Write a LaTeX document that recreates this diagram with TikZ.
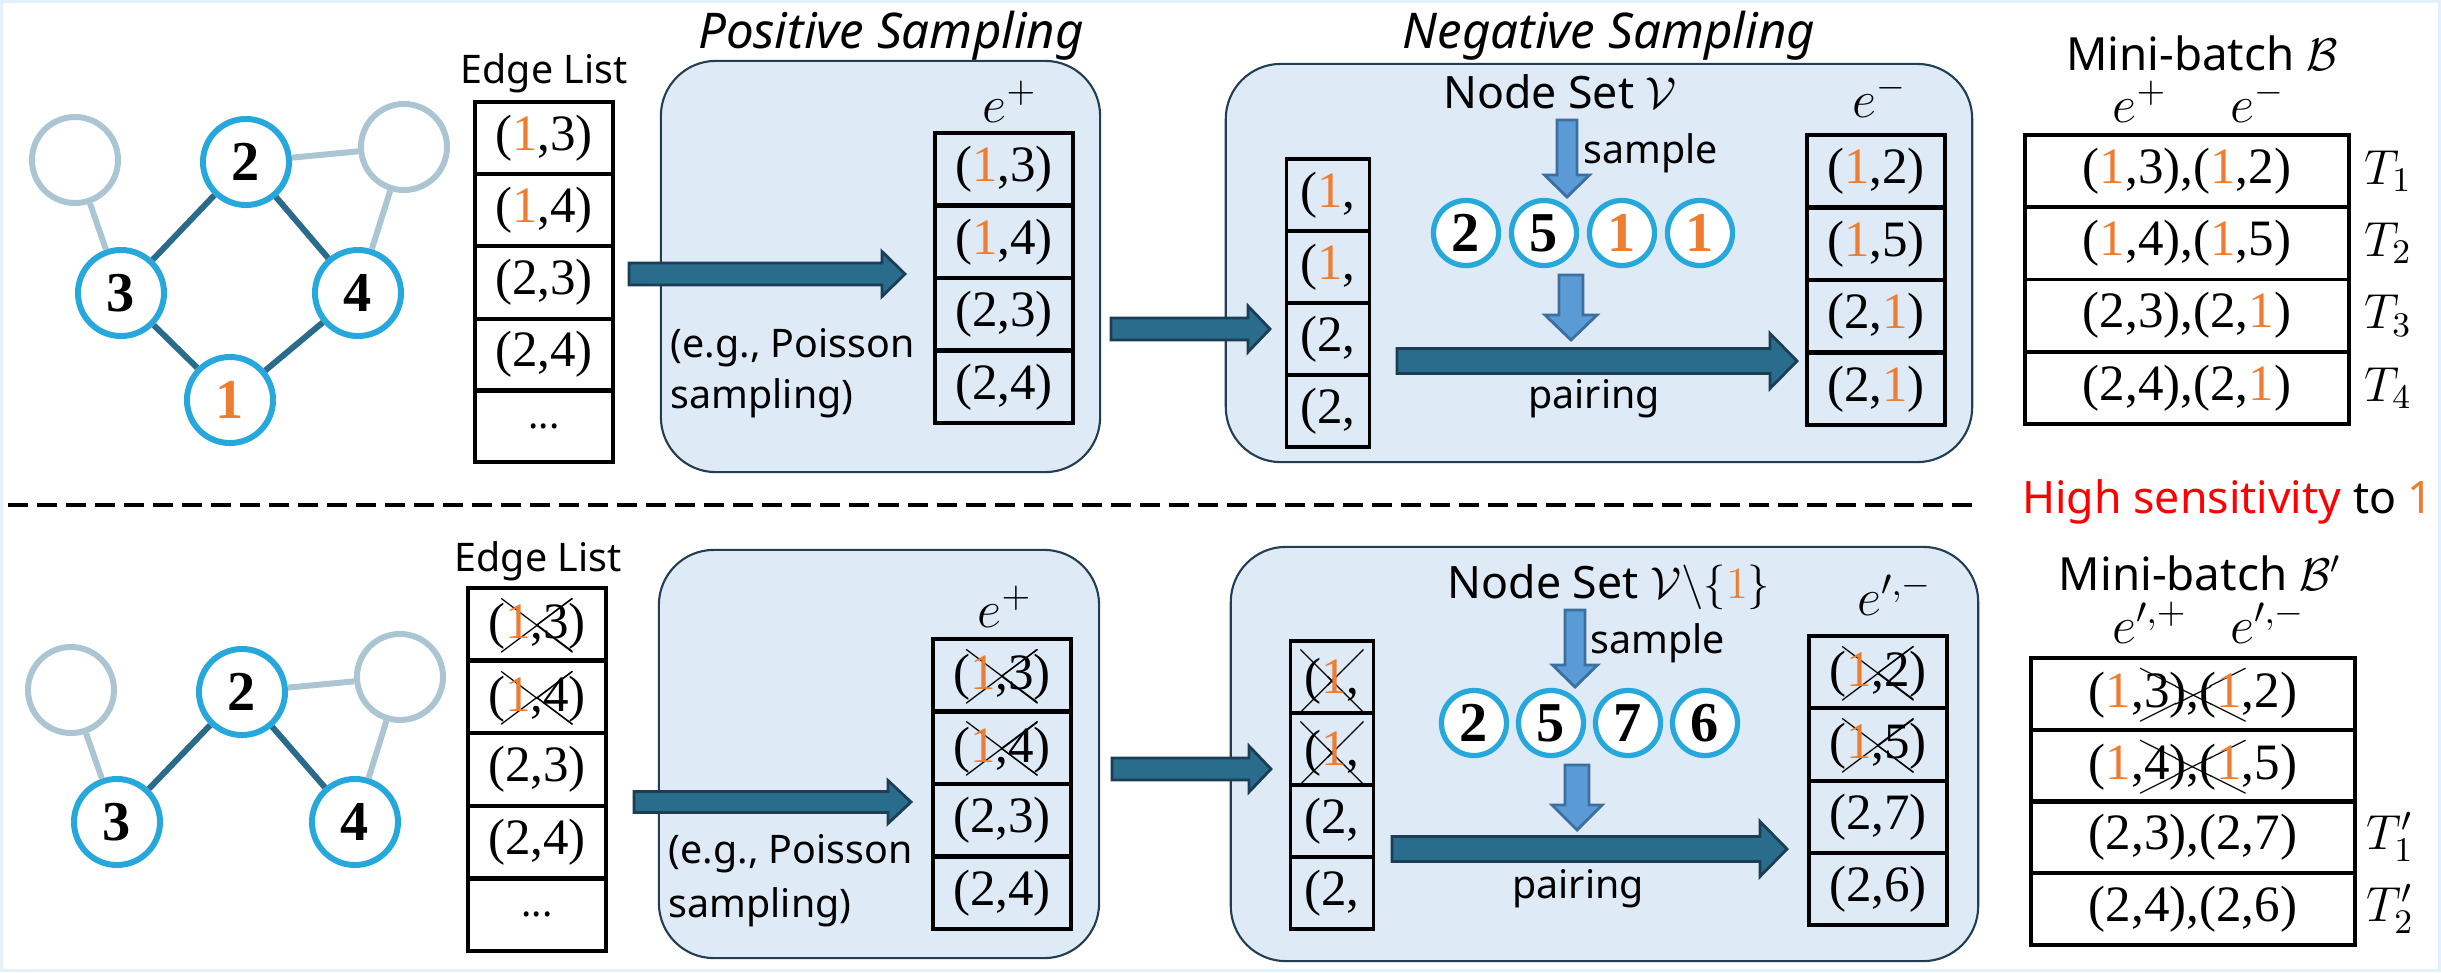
\RequirePackage{fix-cm}
\documentclass[tikz,border=0pt]{standalone}
\usepackage{fontspec}
\setmainfont{Noto Sans}
\newfontfamily\numfont{Liberation Serif}
\usepackage{cancel}
\usepackage{xcolor}
\usepackage{tikz}
\usetikzlibrary{calc}

\definecolor{nodeblue}{RGB}{38,168,220}
\definecolor{ghostgray}{RGB}{172,197,210}
\definecolor{edgedark}{RGB}{42,106,138}
\definecolor{accent}{RGB}{237,125,49}
\definecolor{boxfill}{RGB}{222,235,247}
\definecolor{boxline}{RGB}{35,62,82}
\definecolor{blockfill}{RGB}{42,108,140}
\definecolor{blockline}{RGB}{28,62,84}
\definecolor{dropfill}{RGB}{91,155,213}
\definecolor{dropline}{RGB}{60,110,160}
\definecolor{framecol}{RGB}{225,240,250}
\definecolor{alertred}{RGB}{255,0,0}

\newcommand{\one}{\textcolor{accent}{1}}
% horizontal block arrow: start, tip, shaft half, head half, head length
\newcommand{\blockarrow}[5]{%
  \filldraw[fill=blockfill, draw=blockline, line width=0.8pt]
    ($(#1)+(0,-#3)$) -- ($(#2)+(-#5,-#3)$) -- ($(#2)+(-#5,-#4)$) -- (#2)
    -- ($(#2)+(-#5,#4)$) -- ($(#2)+(-#5,#3)$) -- ($(#1)+(0,#3)$) -- cycle;}
% downward block arrow
\newcommand{\droparrow}[5]{%
  \filldraw[fill=dropfill, draw=dropline, line width=0.8pt]
    ($(#1)+(-#3,0)$) -- ($(#2)+(-#3,-#5)$) -- ($(#2)+(-#4,-#5)$) -- (#2)
    -- ($(#2)+(#4,-#5)$) -- ($(#2)+(#3,-#5)$) -- ($(#1)+(#3,0)$) -- cycle;}

\begin{document}
\begin{tikzpicture}[x=0.01cm, y=-0.01cm, every node/.style={inner sep=0pt},
  lbl/.style={font=\fontsize{11.2}{13}\selectfont},
  big/.style={font=\fontsize{12.7}{15}\selectfont},
  ttl/.style={font=\itshape\fontsize{14}{16}\selectfont},
  mth/.style={font=\fontsize{15}{16}\selectfont},
  vtx/.style={circle, draw=nodeblue, line width=1.7pt, fill=white, minimum size=8.6mm,
              font=\numfont\bfseries\fontsize{16}{16}\selectfont},
  ghost/.style={vtx, draw=ghostgray},
  smp/.style={vtx, minimum size=6.5mm, line width=1.5pt},
  cell/.style={draw, line width=1.1pt, minimum width=1.38cm, minimum height=7.22mm,
               font=\numfont\fontsize{14.5}{16}\selectfont},
  wide/.style={cell, minimum width=3.23cm},
  narrow/.style={cell, minimum width=0.83cm, text width=0.55cm, align=left},
  box/.style={draw=boxline, fill=boxfill, line width=0.6pt, rounded corners=0.55cm},
  darkedge/.style={edgedark, line width=1.7pt},
  lightedge/.style={ghostgray, line width=1.7pt}]
  \useasboundingbox (0,0) rectangle (2441,972);
  \draw[framecol, line width=0.9pt] (1.5,1.5) rectangle (2439.5,970.5);

  % titles
  \node[ttl, anchor=base] (ttlPos) at (891,48) {Positive Sampling};
  \node[ttl, anchor=base] (ttlNeg) at (1609,48) {Negative Sampling};

  % ---------- top: full graph ----------
  \node[box, minimum width=4.39cm, minimum height=4.11cm] (posA) at (880.5,266.5) {};
  \node[box, minimum width=7.46cm, minimum height=3.98cm] (negA) at (1599,263) {};

  \node[ghost] (gA1) at (75,160) {};
  \node[vtx] (vA2) at (246,162) {2};
  \node[ghost] (gA2) at (404,147) {};
  \node[vtx] (vA3) at (121,293) {3};
  \node[vtx] (vA4) at (358,293) {4};
  \node[vtx] (vA1) at (230,400) {\color{accent}1};
  \draw[darkedge] (vA2) -- (vA3) (vA2) -- (vA4) (vA3) -- (vA1) (vA4) -- (vA1);
  \draw[lightedge] (gA1) -- (vA3) (vA2) -- (gA2) (gA2) -- (vA4);

  % edge list
  \node[lbl, anchor=base] (elA) at (544,83) {Edge List};
  \foreach \t [count=\i] in {{(\one,3)},{(\one,4)},{(2,3)},{(2,4)}}
    \node[cell] (eA\i) at (544,{102+72.2*(\i-0.5)}) {\t};
  \node[cell, font=\bfseries\fontsize{11}{13}\selectfont] (eA5) at (544,426.1) {...};

  % positive sampling
  \coordinate (aA1s) at (629,274); \coordinate (aA1e) at (905,274);
  \blockarrow{aA1s}{aA1e}{11}{22.5}{23}
  \node[lbl, anchor=base west] (psA1) at (670,357) {(e.g., Poisson};
  \node[lbl, anchor=base west] (psA2) at (670,408) {sampling)};
  \node[mth, anchor=base] (epA) at (1010,122) {$e^{+}$};
  \foreach \t [count=\i] in {{(\one,3)},{(\one,4)},{(2,3)},{(2,4)}}
    \node[cell] (pA\i) at (1004,{133+72.5*(\i-0.5)}) {\t};

  % negative sampling
  \coordinate (aA2s) at (1111,329); \coordinate (aA2e) at (1270,329);
  \blockarrow{aA2s}{aA2e}{11}{23}{22}
  \foreach \t [count=\i] in {{(\one,},{(\one,},{(2,},{(2,}}
    \node[narrow] (qA\i) at (1328,{159+72*(\i-0.5)}) {\t};
  \node[big, anchor=base] (nsA) at (1560,108) {Node Set $\mathcal{V}$};
  \coordinate (dA1s) at (1567,120); \coordinate (dA1e) at (1567,197);
  \droparrow{dA1s}{dA1e}{10}{22.5}{22}
  \node[lbl, anchor=base west] (smA) at (1583,163) {sample};
  \foreach \t [count=\i] in {2,5,\one,\one}
    \node[smp] (sA\i) at ({1466+78*(\i-1)},233) {\t};
  \coordinate (dA2s) at (1571,275); \coordinate (dA2e) at (1571,340);
  \droparrow{dA2s}{dA2e}{12}{26}{25}
  \coordinate (aA3s) at (1397,361); \coordinate (aA3e) at (1797,361);
  \blockarrow{aA3s}{aA3e}{12.5}{27.5}{27}
  \node[lbl, anchor=base] (prA) at (1594,408) {pairing};
  \node[mth, anchor=base] (emA) at (1880,117) {$e^{-}$};
  \foreach \t [count=\i] in {{(\one,2)},{(\one,5)},{(2,\one)},{(2,\one)}}
    \node[cell] (nA\i) at (1876,{135+72.5*(\i-0.5)}) {\t};

  % mini-batch
  \node[font=\fontsize{13}{15}\selectfont, anchor=base] (mbA) at (2202,70) {Mini-batch $\mathcal{B}$};
  \node[mth, anchor=base] (mbpA) at (2140,122) {$e^{+}$};
  \node[mth, anchor=base] (mbmA) at (2258,122) {$e^{-}$};
  \foreach \t [count=\i] in {{(\one,3),(\one,2)},{(\one,4),(\one,5)},{(2,3),(2,\one)},{(2,4),(2,\one)}}
    \node[wide] (bA\i) at (2187,{135+72.25*(\i-0.5)}) {\t};
  \foreach \i in {1,...,4}
    \node[font=\fontsize{14}{16}\selectfont] (tA\i) at (2388,{135+72.25*(\i-0.5)}) {$T_{\i}$};

  % divider
  \draw[line width=1.1pt, dash pattern=on 0.2cm off 0.09cm] (8,505) -- (1980,505);
  \node[big, anchor=base east] (hs) at (2434,513) {\textcolor{alertred}{High sensitivity} to \one};

  % ---------- bottom: node 1 removed ----------
  \node[box, minimum width=4.40cm, minimum height=4.08cm] (posB) at (879,754) {};
  \node[box, minimum width=7.47cm, minimum height=4.14cm] (negB) at (1604.5,754) {};

  \node[ghost] (gB1) at (71,690) {};
  \node[vtx] (vB2) at (242,692) {2};
  \node[ghost] (gB2) at (400,677) {};
  \node[vtx] (vB3) at (117,822) {3};
  \node[vtx] (vB4) at (355,822) {4};
  \draw[darkedge] (vB2) -- (vB3) (vB2) -- (vB4);
  \draw[lightedge] (gB1) -- (vB3) (vB2) -- (gB2) (gB2) -- (vB4);

  % edge list
  \node[lbl, anchor=base] (elB) at (538,571) {Edge List};
  \foreach \t [count=\i] in {{(\xcancel{\one,3})},{(\xcancel{\one,4})},{(2,3)},{(2,4)}}
    \node[cell] (eB\i) at (537,{588+72.6*(\i-0.5)}) {\t};
  \node[cell, font=\bfseries\fontsize{11}{13}\selectfont] (eB5) at (537,914.7) {...};

  % positive sampling
  \coordinate (aB1s) at (634,802); \coordinate (aB1e) at (911,802);
  \blockarrow{aB1s}{aB1e}{10.5}{21.5}{23}
  \node[lbl, anchor=base west] (psB1) at (668,863) {(e.g., Poisson};
  \node[lbl, anchor=base west] (psB2) at (668,917) {sampling)};
  \node[mth, anchor=base] (epB) at (1005,627) {$e^{+}$};
  \foreach \t [count=\i] in {{(\xcancel{\one,3})},{(\xcancel{\one,4})},{(2,3)},{(2,4)}}
    \node[cell] (pB\i) at (1002,{639+72.5*(\i-0.5)}) {\t};

  % negative sampling
  \coordinate (aB2s) at (1112,769); \coordinate (aB2e) at (1271,769);
  \blockarrow{aB2s}{aB2e}{11}{23}{22}
  \foreach \t [count=\i] in {{\xcancel{(\one,}},{\xcancel{(\one,}},{(2,},{(2,}}
    \node[narrow] (qB\i) at (1332,{641+72*(\i-0.5)}) {\t};
  \node[big, anchor=base] (nsB) at (1609,598) {Node Set $\mathcal{V}\backslash\{\textcolor{accent}{1}\}$};
  \coordinate (dB1s) at (1575,610); \coordinate (dB1e) at (1575,687);
  \droparrow{dB1s}{dB1e}{10}{22.5}{22}
  \node[lbl, anchor=base west] (smB) at (1590,653) {sample};
  \foreach \t [count=\i] in {2,5,7,6}
    \node[smp] (sB\i) at ({1474+77*(\i-1)},723) {\t};
  \coordinate (dB2s) at (1577,765); \coordinate (dB2e) at (1577,830);
  \droparrow{dB2s}{dB2e}{12}{25}{25}
  \coordinate (aB3s) at (1392,849); \coordinate (aB3e) at (1787,849);
  \blockarrow{aB3s}{aB3e}{12.5}{27.5}{27}
  \node[lbl, anchor=base] (prB) at (1578,898) {pairing};
  \node[mth, anchor=base] (emB) at (1895,615) {$e^{\prime,-}$};
  \foreach \t [count=\i] in {{(\xcancel{\one,2})},{(\xcancel{\one,5})},{(2,7)},{(2,6)}}
    \node[cell] (nB\i) at (1878,{636+72.3*(\i-0.5)}) {\t};

  % mini-batch
  \node[font=\fontsize{13}{15}\selectfont, anchor=base] (mbB) at (2200,590) {Mini-batch $\mathcal{B}'$};
  \node[mth, anchor=base] (mbpB) at (2150,643) {$e^{\prime,+}$};
  \node[mth, anchor=base] (mbmB) at (2268,643) {$e^{\prime,-}$};
  \foreach \t [count=\i] in {{(\one,\xcancel{3),(\one},2)},{(\one,\xcancel{4),(\one},5)},{(2,3),(2,7)},{(2,4),(2,6)}}
    \node[wide] (bB\i) at (2193,{658+71.75*(\i-0.5)}) {\t};
  \node[font=\fontsize{14}{16}\selectfont] (tB1) at (2390,837) {$T_1'$};
  \node[font=\fontsize{14}{16}\selectfont] (tB2) at (2390,909) {$T_2'$};
\end{tikzpicture}
\end{document}
